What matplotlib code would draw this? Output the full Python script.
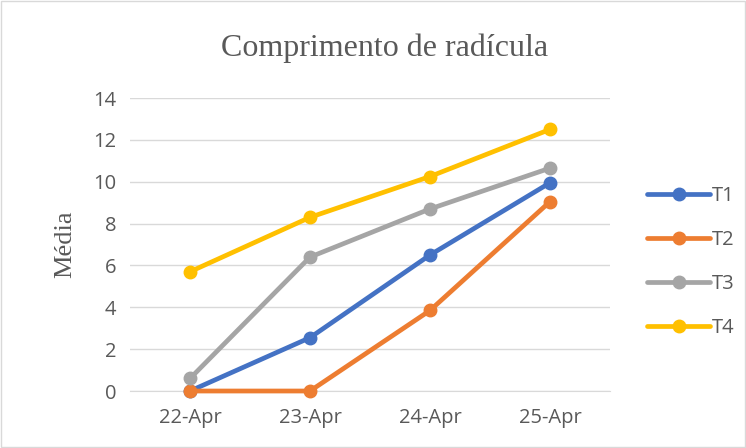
import matplotlib.pyplot as plt
from matplotlib.patches import Rectangle

dates = ["22-Apr", "23-Apr", "24-Apr", "25-Apr"]
t1 = [0, 2.55, 6.5, 9.95]
t2 = [0, 0, 3.85, 9.05]
t3 = [0.6, 6.4, 8.7, 10.65]
t4 = [5.7, 8.3, 10.25, 12.5]
series_names = ["T1", "T2", "T3", "T4"]
colors = ["#4472C4", "#ED7D31", "#A5A5A5", "#FFC000"]

fig = plt.figure(figsize=(7.46, 4.48), dpi=100)
ax = fig.add_axes([0.1743, 0.1272, 0.6434, 0.654])

x = list(range(len(dates)))
for vals, name, c in zip([t1, t2, t3, t4], series_names, colors):
    ax.plot(x, vals, color=c, lw=3.4, marker="o", ms=9, label=name,
            solid_capstyle="round", clip_on=False, zorder=3)

ax.set_xlim(-0.5, 3.5)
ax.set_ylim(0, 14)
ax.set_yticks(range(0, 15, 2))
ax.set_xticks(x)
ax.set_xticklabels(dates)
ax.grid(axis="y", color="#D9D9D9", lw=1)
for s in ["top", "right", "left"]:
    ax.spines[s].set_visible(False)
ax.spines["bottom"].set_color("#D9D9D9")
ax.tick_params(length=0, labelsize=14.5, labelcolor="#595959")
ax.tick_params(axis="x", pad=12)
ax.tick_params(axis="y", pad=10)
for lab in ax.get_xticklabels() + ax.get_yticklabels():
    lab.set_family("Open Sans")

ax.set_ylabel("Média", family="Liberation Serif", fontsize=19, color="#595959", labelpad=12)
fig.text(0.516, 0.893, "Comprimento de radícula", family="Liberation Serif",
         fontsize=23, color="#595959", ha="center", va="center")

leg = ax.legend(loc="center left", bbox_to_anchor=(1.04, 0.44), frameon=False,
                labelspacing=1.2, handlelength=3.1, handletextpad=0.1,
                prop={"family": "Open Sans", "size": 14.5})
for t in leg.get_texts():
    t.set_color("#595959")

fig.patches.append(Rectangle((0.002, 0.002), 0.996, 0.996, transform=fig.transFigure,
                             fill=False, edgecolor="#D9D9D9", lw=1))

fig.savefig("out.png", dpi=100)
